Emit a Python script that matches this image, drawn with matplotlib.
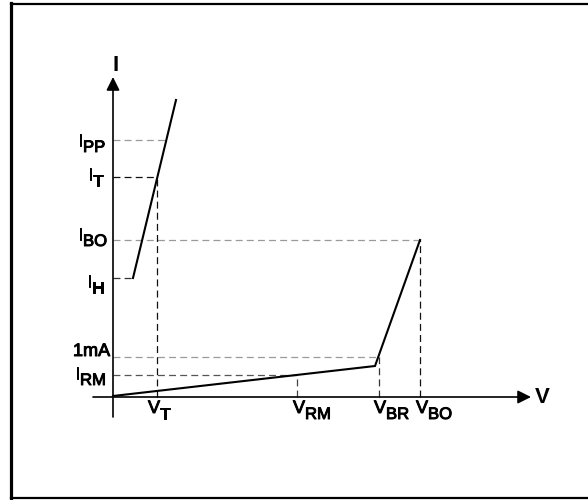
import numpy as np
import matplotlib
matplotlib.use("Agg")
import matplotlib.pyplot as plt
from matplotlib.lines import Line2D
import matplotlib.patheffects as pe

plt.rcParams['font.family'] = ['Liberation Sans', 'DejaVu Sans']
plt.rcParams['lines.scale_dashes'] = False

# ---------------- data (arbitrary V / I units of the schematic) ----------------
low_branch_V = [0, 262, 307]
low_branch_I = [1, 31, 157]
on_branch_V = [20, 63]
on_branch_I = [119, 297]

I_names = ['PP', 'T', 'BO', 'H', '1mA', 'RM']
I_main = ['I', 'I', 'I', 'I', '1mA', 'I']
I_sub = ['PP', 'T', 'BO', 'H', '', 'RM']
I_values = [257, 220, 157, 119, 40, 22]

V_main = ['V', 'V', 'V', 'V']
V_sub = ['T', 'RM', 'BR', 'BO']
V_values = [44, 184, 266, 307]

# ---------------- styling ----------------
I_label_left = [-35, -25, -35, -26, -40, -38]   # pixels from y axis
I_label_base = [-6, -3, 0, -9, 1, -4]          # baseline offset (px) from level
I_guide_colors = ['#9a9a9a', '#111111', '#9a9a9a', '#333333', '#9a9a9a', '#555555']
V_label_dx = [-9, -4, -5, -4]
V_guide_colors = ['#111111', '#444444', '#333333', '#111111']
heavy = [pe.withStroke(linewidth=0.7, foreground='black')]

fig = plt.figure(figsize=(5.88, 5.0), dpi=100)
ax = fig.add_axes([0, 0, 1, 1])
ax.set_xlim(-113, 475)
ax.set_ylim(-103, 397)
ax.axis('off')

# frame
fig.add_artist(Line2D([11/588, 11/588], [1 - 3/500, 1 - 499/500], color='black', lw=2.3,
                      transform=fig.transFigure, solid_capstyle='projecting'))
fig.add_artist(Line2D([11/588, 1.0], [1 - 4/500, 1 - 4/500], color='black', lw=1.6,
                      transform=fig.transFigure))
fig.add_artist(Line2D([11/588, 1.0], [1 - 498/500, 1 - 498/500], color='black', lw=1.6,
                      transform=fig.transFigure))

# axes with arrows
arrow_kw = dict(arrowstyle='-|>,head_length=0.4,head_width=0.2', mutation_scale=20,
                lw=1.2, color='black', shrinkA=0, shrinkB=0)
ax.annotate('', xy=(418, 0), xytext=(-20, 0), arrowprops=arrow_kw)
ax.annotate('', xy=(0, 320), xytext=(0, -20), arrowprops=arrow_kw)
ax.text(422, -6, 'V', fontsize=16, fontweight='bold', ha='left', va='baseline')
ax.text(3, 326, 'I', fontsize=16, fontweight='bold', ha='center', va='baseline')

# guide lines
targets = {'PP': float(np.interp(I_values[0], on_branch_I, on_branch_V)),
           'T': V_values[0],
           'BO': V_values[3],
           'H': on_branch_V[0],
           '1mA': V_values[2],
           'RM': V_values[1]}
for name, val, col in zip(I_names, I_values, I_guide_colors):
    ax.plot([0, targets[name]], [val, val], color=col, lw=0.9, dashes=(5, 3))

V_tops = [I_values[1], I_values[5], I_values[4], I_values[2]]
for v, top, col in zip(V_values, V_tops, V_guide_colors):
    ax.plot([v, v], [0, top], color=col, lw=0.9, dashes=(5, 3))

# curves
ax.plot(low_branch_V, low_branch_I, color='black', lw=1.5, solid_joinstyle='miter')
ax.plot(on_branch_V, on_branch_I, color='black', lw=1.5)

# I labels
for m, s, val, lx, by in zip(I_main, I_sub, I_values, I_label_left, I_label_base):
    t = ax.annotate(m, xy=(0, val), xytext=(lx, by), textcoords='offset pixels',
                    ha='left', va='baseline', fontsize=13, path_effects=heavy)
    if s:
        ax.annotate(s, xy=(1, 0), xycoords=t, xytext=(0, -5), textcoords='offset pixels',
                    ha='left', va='bottom', fontsize=12, path_effects=heavy)

# V labels
for m, s, val, dx in zip(V_main, V_sub, V_values, V_label_dx):
    t = ax.annotate(m, xy=(val, 0), xytext=(dx, -16), textcoords='offset pixels',
                    ha='left', va='baseline', fontsize=13, path_effects=heavy)
    ax.annotate(s, xy=(1, 0), xycoords=t, xytext=(0, -5), textcoords='offset pixels',
                ha='left', va='bottom', fontsize=12, path_effects=heavy)

fig.savefig('out.png', dpi=100)
